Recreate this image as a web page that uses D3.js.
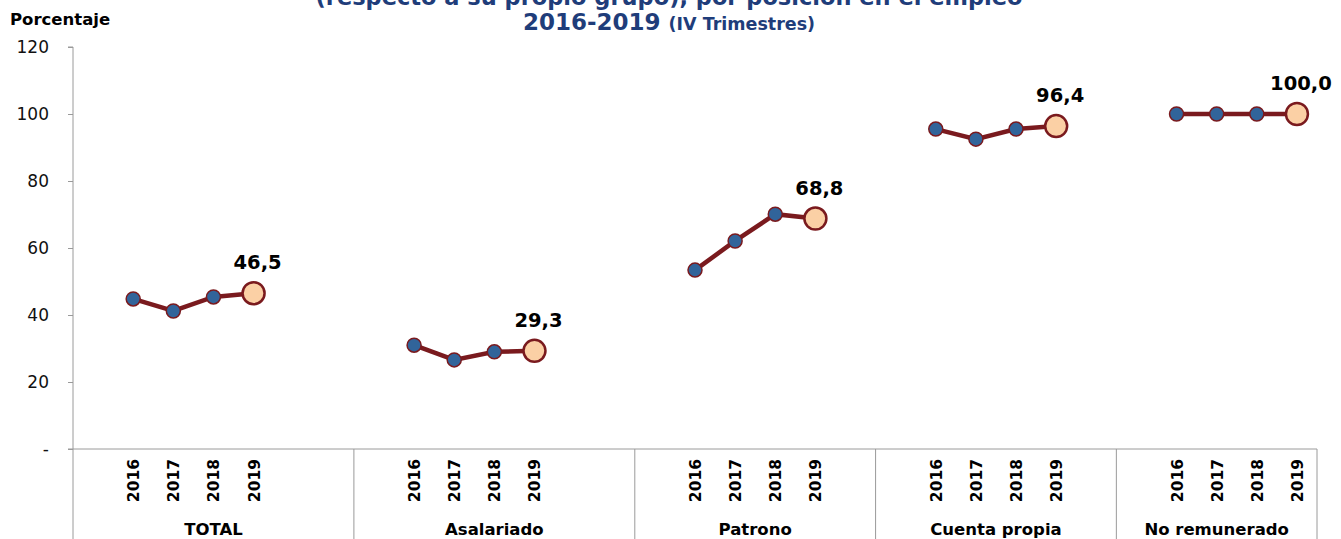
<!DOCTYPE html>
<html>
<head>
<meta charset="utf-8">
<script src="https://cdn.jsdelivr.net/npm/d3@7"></script>
<style>
  body { margin: 0; background: #fff; }
  svg { display: block; font-family: "DejaVu Sans", Verdana, sans-serif; }
</style>
</head>
<body>
<div id="chart"></div>
<script>
// Chart data
const groups = ['TOTAL', 'Asalariado', 'Patrono', 'Cuenta propia', 'No remunerado']
const years = ['2016', '2017', '2018', '2019']
const totalVals = [44.8, 41.2, 45.4, 46.5]
const asalariadoVals = [31.0, 26.6, 29.0, 29.3]
const patronoVals = [53.4, 62.1, 70.1, 68.8]
const cuentaPropiaVals = [95.5, 92.5, 95.5, 96.4]
const noRemuneradoVals = [100.0, 100.0, 100.0, 100.0]
const yTicks = [0, 20, 40, 60, 80, 100, 120]
// empty category slots before / after each group's years (as on the original axis)
const blanksBefore = [1, 1, 1, 1, 1]
const blanksAfter = [2, 2, 1, 1, 0]

const seriesVals = [totalVals, asalariadoVals, patronoVals, cuentaPropiaVals, noRemuneradoVals]

const width = 1341,
  height = 539
const plotLeft = 73, plotRight = 1317, plotTop = 47, plotBottom = 449

const svg = d3.select('#chart')
  .append('svg')
  .attr('width', width)
  .attr('height', height)

// build the category slots
let slots = []
let groupSpans = []
groups.forEach((g, gi) => {
  const start = slots.length
  for (let i = 0; i < blanksBefore[gi]; i++) slots.push({ key: g + '_b' + i, label: '' })
  years.forEach((y, yi) => slots.push({ key: g + '_' + y, label: y, group: gi, value: seriesVals[gi][yi], last: yi === years.length - 1 }))
  for (let i = 0; i < blanksAfter[gi]; i++) slots.push({ key: g + '_a' + i, label: '' })
  groupSpans.push({ name: g, first: slots[start].key, lastKey: slots[slots.length - 1].key })
})

const x = d3.scaleBand()
  .domain(slots.map(d => d.key))
  .range([plotLeft, plotRight])
  .padding(0)

const y = d3.scaleLinear()
  .domain([0, 120])
  .range([plotBottom, plotTop])

const axisColor = '#9a9a9a'

// Title (first line is cut off at the top, as in the original)
const title = svg.append('text')
  .attr('text-anchor', 'middle')
  .attr('fill', '#1f3d7a')
  .style('font-weight', 'bold')
title.append('tspan')
  .attr('x', 669)
  .attr('y', 5)
  .style('font-size', '22.5px')
  .text('(respecto a su propio grupo), por posición en el empleo')
title.append('tspan')
  .attr('x', 669)
  .attr('y', 30)
  .style('font-size', '23px')
  .text('2016-2019 ')
  .append('tspan')
  .style('font-size', '17.5px')
  .text('(IV Trimestres)')

svg.append('text')
  .attr('x', 10)
  .attr('y', 25)
  .style('font-size', '16.5px')
  .style('font-weight', 'bold')
  .text('Porcentaje')

// Y axis
const yAxis = svg.append('g')
  .attr('transform', 'translate(' + plotLeft + ',0)')
  .call(d3.axisLeft(y).tickValues(yTicks).tickSize(5).tickPadding(19)
    .tickFormat(d => d === 0 ? '-' : d))
yAxis.select('.domain').attr('stroke', axisColor).attr('d', 'M-5,' + plotTop + 'H0V' + plotBottom)
yAxis.selectAll('.tick line').attr('stroke', axisColor)
yAxis.selectAll('.tick text')
  .style('font-size', '17px')
  .style('font-family', '"DejaVu Sans", Verdana, sans-serif')
  .attr('fill', '#111')

// X axis baseline
svg.append('line')
  .attr('x1', plotLeft - 5).attr('x2', plotRight)
  .attr('y1', plotBottom).attr('y2', plotBottom)
  .attr('stroke', axisColor)

// group separators
let bounds = [plotLeft]
groupSpans.forEach(s => bounds.push(x(s.lastKey) + x.bandwidth()))
svg.selectAll('.sep')
  .data(bounds)
  .enter()
  .append('line')
  .attr('class', 'sep')
  .attr('x1', d => d).attr('x2', d => d)
  .attr('y1', plotBottom).attr('y2', height)
  .attr('stroke', axisColor)

// year labels
svg.selectAll('.year')
  .data(slots.filter(d => d.label !== ''))
  .enter()
  .append('text')
  .attr('class', 'year')
  .attr('transform', d => 'translate(' + (x(d.key) + x.bandwidth() / 2 + 6) + ',459) rotate(-90)')
  .attr('text-anchor', 'end')
  .style('font-size', '15.5px')
  .style('font-weight', 'bold')
  .text(d => d.label)

// group labels
svg.selectAll('.grp')
  .data(groupSpans)
  .enter()
  .append('text')
  .attr('class', 'grp')
  .attr('x', d => (x(d.first) + x(d.lastKey) + x.bandwidth()) / 2)
  .attr('y', 535)
  .attr('text-anchor', 'middle')
  .style('font-size', '16.5px')
  .style('font-weight', 'bold')
  .text(d => d.name)

// lines and markers
const lineColor = '#7a1a1e'
const line = d3.line()
  .x(d => x(d.key) + x.bandwidth() / 2)
  .y(d => y(d.value))

groups.forEach((g, gi) => {
  const pts = slots.filter(d => d.group === gi)
  svg.append('path')
    .datum(pts)
    .attr('d', line)
    .attr('fill', 'none')
    .attr('stroke', lineColor)
    .attr('stroke-width', 4.5)

  svg.selectAll('.pt' + gi)
    .data(pts)
    .enter()
    .append('circle')
    .attr('cx', d => x(d.key) + x.bandwidth() / 2)
    .attr('cy', d => y(d.value))
    .attr('r', d => d.last ? 11 : 7)
    .attr('fill', d => d.last ? '#fbd0a5' : '#31649a')
    .attr('stroke', lineColor)
    .attr('stroke-width', d => d.last ? 2.5 : 1.5)

  const lastPt = pts[pts.length - 1]
  svg.append('text')
    .attr('x', x(lastPt.key) + x.bandwidth() / 2 + 4)
    .attr('y', y(lastPt.value) - 24)
    .attr('text-anchor', 'middle')
    .style('font-size', '19.5px')
    .style('font-weight', 'bold')
    .text(d3.format('.1f')(lastPt.value).replace('.', ','))
})
</script>
</body>
</html>
